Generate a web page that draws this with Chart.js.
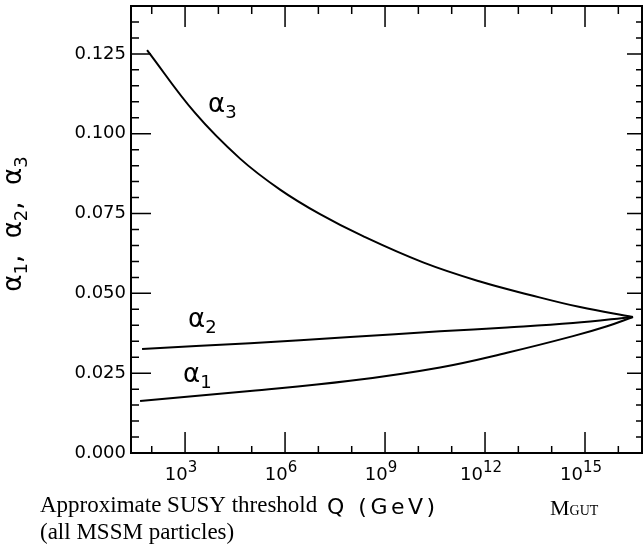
<!DOCTYPE html>
<html>
<head>
<meta charset="utf-8">
<script src="https://cdn.jsdelivr.net/npm/chart.js@4.4.0/dist/chart.umd.min.js"></script>
<style>
  html, body { margin: 0; padding: 0; background: #fff; }
  #wrap { width: 643px; height: 544px; position: relative; }
</style>
</head>
<body>
<div id="wrap"><canvas id="myChart"></canvas></div>
<script>
// readings: log10(Q / GeV) and the coupling value
var a1Exp = [1.65, 4.95, 7.95, 10.65, 12.66, 14.64, 15.66, 16.44];
var a1Val = [0.0163, 0.0194, 0.0226, 0.0268, 0.0314, 0.0366, 0.0397, 0.0426];

var a2Exp = [1.71, 4.95, 7.95, 10.65, 12.66, 14.64, 16.44];
var a2Val = [0.0326, 0.0344, 0.0363, 0.0381, 0.0393, 0.0407, 0.0426];

var a3Exp = [1.86, 3.30, 4.65, 5.85, 7.05, 8.34, 10.14, 11.85, 13.35, 14.85, 16.44];
var a3Val = [0.1262, 0.1065, 0.0922, 0.0825, 0.0748, 0.0679, 0.0597, 0.0537, 0.0495, 0.0457, 0.0426];

var xTickExps = [3, 6, 9, 12, 15];
var yTicks = [0, 0.025, 0.05, 0.075, 0.1, 0.125];

// curve name labels (subscript, position in data units)
var curveSubs = ['1', '2', '3'];
var labelExp = [2.94, 3.09, 3.69];
var labelVal = [0.0222, 0.0395, 0.1068];

var SANS = 'DejaVu Sans';
var SERIF = 'Liberation Serif';

function pts(exps, vals) {
    var out = [];
    for (var i = 0; i < exps.length; i++) {
        out.push({ x: Math.pow(10, exps[i]), y: vals[i] });
    }
    return out;
}

// draws a row of text pieces (for sub/superscripts)
function drawParts(c, parts, x, y, align) {
    var w = 0;
    parts.forEach(function (p) {
        c.font = p.font;
        p.w = c.measureText(p.t).width;
        w += p.w;
    });
    var cx = x;
    if (align === 'center') cx = x - w / 2;
    if (align === 'right') cx = x - w;
    parts.forEach(function (p) {
        c.font = p.font;
        c.fillText(p.t, cx, y + (p.dy || 0));
        cx += p.w;
    });
}

var framePlugin = {
    id: 'frame',
    afterDraw: function (chart) {
        var c = chart.ctx;
        var a = chart.chartArea;
        var xs = chart.scales.x;
        var ys = chart.scales.y;
        c.save();
        c.strokeStyle = '#000';
        c.fillStyle = '#000';

        // frame
        c.lineWidth = 2;
        c.strokeRect(a.left, a.top, a.right - a.left, a.bottom - a.top);

        // inward ticks
        c.lineWidth = 1.5;
        c.beginPath();
        for (var e = 2; e <= 16; e++) {
            var px = xs.getPixelForValue(Math.pow(10, e));
            var major = xTickExps.indexOf(e) >= 0;
            c.moveTo(px, a.bottom);
            c.lineTo(px, a.bottom - (major ? 21 : 7));
            c.moveTo(px, a.top);
            c.lineTo(px, a.top + (major ? 21 : 8));
        }
        for (var k = 0; k <= 27; k++) {
            var py = ys.getPixelForValue(k * 0.005);
            var maj = k % 5 === 0;
            c.moveTo(a.left, py);
            c.lineTo(a.left + (maj ? 20 : 8), py);
            c.moveTo(a.right, py);
            c.lineTo(a.right - (maj ? 15 : 6), py);
        }
        c.stroke();

        c.textAlign = 'left';
        c.textBaseline = 'alphabetic';

        // x tick labels 10^n
        xTickExps.forEach(function (e) {
            var px = xs.getPixelForValue(Math.pow(10, e));
            drawParts(c, [
                { t: '10', font: '18px ' + SANS },
                { t: String(e), font: '15px ' + SANS, dy: -8 }
            ], px - 4, 480, 'center');
        });

        // x title
        c.font = '22px ' + SANS;
        c.letterSpacing = '3.5px';
        c.fillText('Q (GeV)', 327, 514);
        c.letterSpacing = '0px';

        // notes under the axis
        c.font = '23px ' + SERIF;
        c.fillText('Approximate SUSY threshold', 40, 512);
        c.fillText('(all MSSM particles)', 40, 539);
        drawParts(c, [
            { t: 'M', font: '22px ' + SERIF },
            { t: 'GUT', font: '14px ' + SERIF }
        ], 550, 515, 'left');

        // y title, rotated
        c.save();
        c.translate(21, 224);
        c.rotate(-Math.PI / 2);
        var big = '26px ' + SANS, small = '18px ' + SANS;
        drawParts(c, [
            { t: '\u03b1', font: big }, { t: '1', font: small, dy: 6 },
            { t: ',  ', font: big },
            { t: '\u03b1', font: big }, { t: '2', font: small, dy: 6 },
            { t: ',  ', font: big },
            { t: '\u03b1', font: big }, { t: '3', font: small, dy: 6 }
        ], 0, 0, 'center');
        c.restore();

        // curve labels
        for (var i = 0; i < curveSubs.length; i++) {
            var lx = xs.getPixelForValue(Math.pow(10, labelExp[i]));
            var ly = ys.getPixelForValue(labelVal[i]);
            drawParts(c, [
                { t: '\u03b1', font: '26px ' + SANS },
                { t: curveSubs[i], font: '18px ' + SANS, dy: 6 }
            ], lx, ly, 'left');
        }
        c.restore();
    }
};

var ctx = document.getElementById('myChart').getContext('2d');
var lineStyle = {
    borderColor: '#000',
    borderWidth: 2,
    pointRadius: 0,
    fill: false,
    tension: 0.4
};

var myChart = new Chart(ctx, {
    type: 'line',
    data: {
        datasets: [
            Object.assign({ label: 'alpha1', data: pts(a1Exp, a1Val) }, lineStyle),
            Object.assign({ label: 'alpha2', data: pts(a2Exp, a2Val) }, lineStyle),
            Object.assign({ label: 'alpha3', data: pts(a3Exp, a3Val) }, lineStyle)
        ]
    },
    options: {
        responsive: true,
        maintainAspectRatio: false,
        animation: false,
        layout: { padding: { top: 6, right: 1, left: 0, bottom: 0 } },
        plugins: {
            legend: { display: false },
            tooltip: { enabled: false }
        },
        scales: {
            x: {
                type: 'logarithmic',
                min: Math.pow(10, 1.378),
                max: Math.pow(10, 16.71),
                ticks: { display: false },
                grid: { display: false, drawTicks: false },
                border: { display: false },
                afterFit: function (s) {
                    s.height = 91;
                    s.paddingLeft = 0;
                    s.paddingRight = 0;
                }
            },
            y: {
                min: 0,
                max: 0.14,
                afterBuildTicks: function (s) {
                    s.ticks = yTicks.map(function (v) { return { value: v }; });
                },
                ticks: {
                    color: '#000',
                    padding: 5,
                    font: { family: SANS, size: 18 },
                    callback: function (v) { return Number(v).toFixed(3); }
                },
                grid: { display: false, drawTicks: false },
                border: { display: false },
                afterFit: function (s) {
                    s.width = 131;
                    s.paddingTop = 0;
                    s.paddingBottom = 0;
                }
            }
        }
    },
    plugins: [framePlugin]
});
</script>
</body>
</html>
